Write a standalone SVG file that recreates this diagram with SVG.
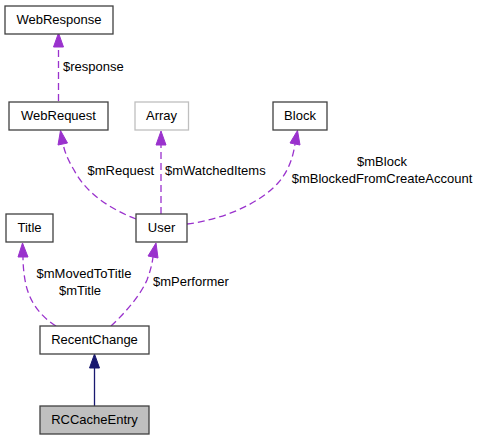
<svg xmlns="http://www.w3.org/2000/svg" width="479" height="440" viewBox="0 0 479 440">
<defs>
<style>
text{font-family:"Liberation Sans",Arial,sans-serif;font-size:13px;fill:#000}
.node rect{fill:#fff;stroke:#404040;stroke-width:1.3}
.node text{text-anchor:middle}
.gray rect{stroke:#bfbfbf}
.cur rect{fill:#bfbfbf}
.dep{fill:none;stroke:#9a32cd;stroke-width:1.3;stroke-dasharray:7,4}
.head{fill:#9a32cd;stroke:#9a32cd}
.inh{fill:none;stroke:#191970;stroke-width:1.3}
.ihead{fill:#191970;stroke:#191970}
.mid{text-anchor:middle}
.end{text-anchor:end}
</style>
</defs>
<rect width="479" height="440" fill="#fff"/>
<g id="connectors">
  <path class="dep" d="M58.5,101 V47"/>
  <polygon class="head" points="53.5,47 58.5,33 63.5,47"/>
  <path class="dep" d="M136,219 C110,209 86,193 74,170 C68,160 65,153 63,144"/>
  <polygon class="head" points="58,145 60.5,130.5 67.5,143"/>
  <path class="dep" d="M161,214 V145"/>
  <polygon class="head" points="156,145 161,131 166,145"/>
  <path class="dep" d="M187,224 C220,220 258,205 278,183 C288,172 293,158 295,144"/>
  <polygon class="head" points="290,143 297.5,130.5 300,145"/>
  <path class="dep" d="M56,326 C40,316 30,302 26,285 C24,276 23,266 23,257"/>
  <polygon class="head" points="18,257 22.5,243 28,257"/>
  <path class="dep" d="M111,326 C125,313 140,296 147,280 C150,272 152,265 153,257"/>
  <polygon class="head" points="148,256 156,243 158,258"/>
  <path class="inh" d="M94.5,406 V368"/>
  <polygon class="ihead" points="89.5,368 94.5,354 99.5,368"/>
  <text x="63" y="71">$response</text>
  <text class="end" x="154" y="175">$mRequest</text>
  <text x="165" y="175">$mWatchedItems</text>
  <text class="mid" x="382" y="166">$mBlock</text>
  <text class="mid" x="382" y="183">$mBlockedFromCreateAccount</text>
  <text class="mid" x="84" y="278">$mMovedToTitle</text>
  <text class="mid" x="80" y="295">$mTitle</text>
  <text x="153" y="286">$mPerformer</text>
</g>
<g id="WebResponse" class="node"><rect x="5" y="6" width="108" height="28"/><text x="59" y="23.5">WebResponse</text></g>
<g id="WebRequest" class="node"><rect x="9" y="102" width="99" height="28"/><text x="58.5" y="119.5">WebRequest</text></g>
<g id="Array" class="node gray"><rect x="135" y="102" width="53.5" height="28"/><text x="161.5" y="119.5">Array</text></g>
<g id="Block" class="node"><rect x="273" y="102" width="54" height="28"/><text x="300" y="119.5">Block</text></g>
<g id="User" class="node"><rect x="136" y="214" width="51" height="28"/><text x="161.5" y="231.5">User</text></g>
<g id="Title" class="node"><rect x="6" y="214" width="47" height="28"/><text x="29.5" y="231.5">Title</text></g>
<g id="RecentChange" class="node"><rect x="40" y="326" width="109" height="28"/><text x="94.5" y="343.5">RecentChange</text></g>
<g id="RCCacheEntry" class="node cur"><rect x="40" y="406" width="109" height="28"/><text x="94.5" y="423.5">RCCacheEntry</text></g>
</svg>
